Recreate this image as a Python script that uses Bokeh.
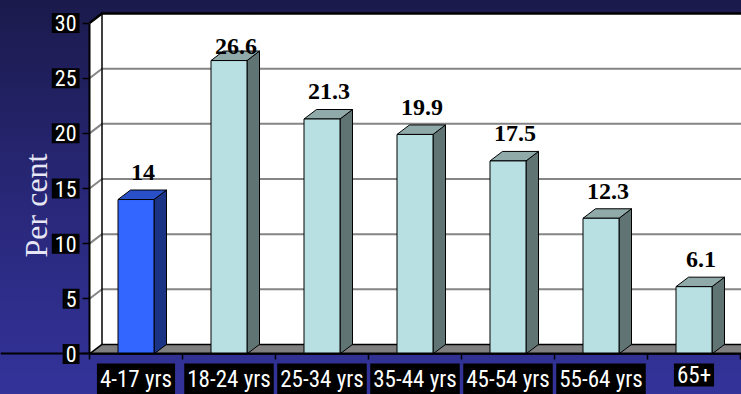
import glob
import math
from bokeh.plotting import figure
from bokeh.models import Range1d, FixedTicker, Label, LinearAxis
from bokeh.core.properties import value
from bokeh.embed import file_html
from bokeh.resources import INLINE

# ---------------- data ----------------
categories = ["4-17 yrs", "18-24 yrs", "25-34 yrs", "35-44 yrs", "45-54 yrs", "55-64 yrs", "65+"]
percent = [14, 26.6, 21.3, 19.9, 17.5, 12.3, 6.1]
value_labels = ["14", "26.6", "21.3", "19.9", "17.5", "12.3", "6.1"]
y_ticks = [0, 5, 10, 15, 20, 25, 30]
y_title = "Per cent"
highlight_index = 0

# ---------------- fonts: prefer a narrow sans, as in the original ----------------
font_choices = [
    ("**/LiberationSansNarrow-Regular.ttf", "Liberation Sans Narrow", "22px", "24px"),
    ("**/RobotoCondensed*.ttf", "Roboto Condensed", "22px", "23px"),
    ("**/DejaVuSansCondensed.ttf", "DejaVu Sans Condensed", "20px", "20px"),
]
SANS, ytick_size, xtick_size = "Liberation Sans", "20px", "20px"
for pattern, fam, ys, xs in font_choices:
    if glob.glob("/usr/share/fonts/" + pattern, recursive=True):
        SANS, ytick_size, xtick_size = fam, ys, xs
        break
SERIF = "Liberation Serif"

# ---------------- geometry (frame = whole canvas) ----------------
W, H = 741, 394
PX_CAT = 93.0          # pixels per category
PX_UNIT = 11.03        # pixels per percent
AX_LEFT_PX = 89.0      # left wall front edge
AX_ZERO_PX = 353.45    # value 0 on the front plane (from top)
x_start = -0.5 - AX_LEFT_PX / PX_CAT
x_end = x_start + W / PX_CAT
y_start = -(H - AX_ZERO_PX) / PX_UNIT
y_end = y_start + H / PX_UNIT
DX = 12.5 / PX_CAT
DY = 9.5 / PX_UNIT
HW = 18.0 / PX_CAT
YMAX = y_ticks[-1]
X0 = -0.5

p = figure(width=W, height=H, output_backend="svg", toolbar_location=None,
           x_range=Range1d(x_start, x_end), y_range=Range1d(y_start, y_end),
           min_border=0, min_border_left=0, min_border_right=0, min_border_top=0,
           min_border_bottom=0, x_axis_type=None, y_axis_type=None)
p.border_fill_color = None
p.background_fill_color = None
p.outline_line_color = None
p.grid.visible = False
p.styles = {"background": "linear-gradient(to bottom, #1b1a4c 0%, #282778 50%, #33339a 100%)"}

xe = x_end + 0.1
bx = X0 + DX

# back wall and left wall
p.patch([bx, xe, xe, bx], [DY, DY, YMAX + DY, YMAX + DY], fill_color="white", line_color=None)
p.patch([X0, bx, bx, X0], [0, DY, YMAX + DY, YMAX], fill_color="white", line_color=None)

# grid lines on the walls
for t in y_ticks[1:-1]:
    p.line([X0, bx, xe], [t, t + DY, t + DY], line_color="#858585", line_width=2)

# wall edges
p.line([X0, bx, xe], [YMAX, YMAX + DY, YMAX + DY], line_color="black", line_width=2.5)
p.line([bx, bx], [DY, YMAX + DY], line_color="black", line_width=1.5)

# floor
p.patch([X0, bx, xe, xe], [0, DY, DY, 0], fill_color="#808080",
        line_color="black", line_width=1.5)

# bars
xs_c = list(range(len(categories)))
front_col = ["#3366ff" if i == highlight_index else "#b8e0e2" for i in xs_c]
side_col = ["#1b3384" if i == highlight_index else "#607474" for i in xs_c]
top_col = ["#2a50c8" if i == highlight_index else "#90a9a9" for i in xs_c]

side_xs = [[c + HW, c + HW + DX, c + HW + DX, c + HW] for c in xs_c]
side_ys = [[0, DY, v + DY, v] for v in percent]
top_xs = [[c - HW, c - HW + DX, c + HW + DX, c + HW] for c in xs_c]
top_ys = [[v, v + DY, v + DY, v] for v in percent]

p.patches(side_xs, side_ys, fill_color=side_col, line_color="black", line_width=1)
p.patches(top_xs, top_ys, fill_color=top_col, line_color="black", line_width=1)
p.quad(left=[c - HW for c in xs_c], right=[c + HW for c in xs_c], bottom=0, top=percent,
       fill_color=front_col, line_color="black", line_width=1)

# value labels
lab_y = [min(v + 2.45, 27.9) for v in percent]
p.text(x=[c + 7.0 / PX_CAT for c in xs_c], y=lab_y, text=value_labels,
       text_font=value(SERIF), text_font_style="bold", text_font_size="24px",
       text_color="black", text_align="center", text_baseline="alphabetic")

# ---------------- axes (drawn at fixed locations inside the canvas) ----------------
yax = LinearAxis(ticker=FixedTicker(ticks=y_ticks, minor_ticks=[]), bounds=(0, YMAX),
                 fixed_location=X0)
yax.axis_line_color = "black"
yax.axis_line_width = 2
yax.major_tick_out = 7
yax.major_tick_in = 0
yax.major_tick_line_color = "black"
yax.major_tick_line_width = 1.5
yax.minor_tick_line_color = None
yax.major_label_text_font_size = "0px"
yax.major_label_text_color = None
p.add_layout(yax, "left")

xax = LinearAxis(ticker=FixedTicker(ticks=xs_c, minor_ticks=[c - 0.5 for c in xs_c] + [xs_c[-1] + 0.5]),
                 fixed_location=0)
xax.axis_line_color = "black"
xax.axis_line_width = 2
xax.major_tick_out = 0
xax.major_tick_in = 0
xax.minor_tick_out = 6
xax.minor_tick_in = 0
xax.minor_tick_line_color = "black"
xax.minor_tick_line_width = 1.5
xax.major_label_text_font_size = "0px"
xax.major_label_text_color = None
p.add_layout(xax, "below")

has_pad = "padding" in Label(text="x").properties()

def boxed(pad, **kw):
    lab = Label(text_font=SANS, text_color="white", background_fill_color="black", **kw)
    if has_pad:
        lab.padding = pad
    p.add_layout(lab)

for t in y_ticks:
    boxed((3, 2), x=X0, y=t, x_offset=-10, text=str(t), text_align="right",
          text_baseline="middle", text_font_size=ytick_size)
for c in xs_c:
    boxed((3, 3), x=c, y=0, y_offset=-9.5, text=categories[c], text_align="center",
          text_baseline="top", text_font_size=xtick_size)

# y title
p.add_layout(Label(x=x_start + 35 / PX_CAT, y=y_start + (H - 205) / PX_UNIT,
                   text=y_title, angle=math.pi / 2, text_align="center",
                   text_baseline="alphabetic", text_font=SERIF,
                   text_font_size="32px", text_color="#e6e6f5"))

open("out.html", "w").write(file_html(p, INLINE))
